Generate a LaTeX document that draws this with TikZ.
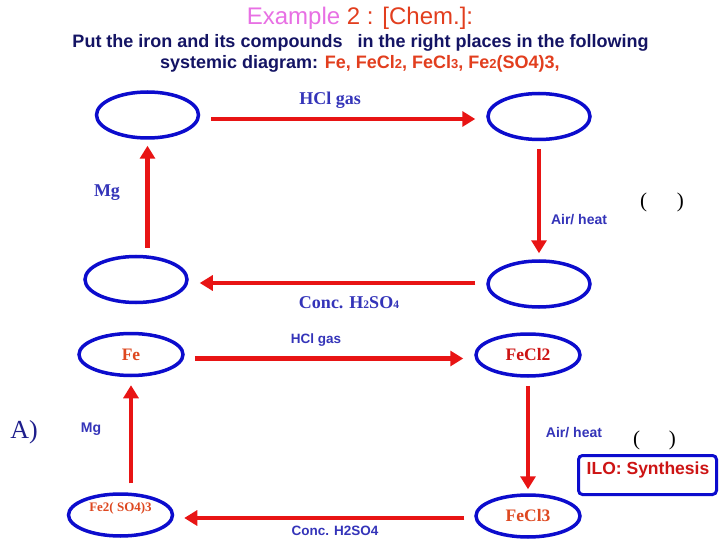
\documentclass[tikz,border=0pt]{standalone}
\usepackage{fontspec}
\setmainfont{Liberation Sans}
\newfontfamily\serifx{Liberation Serif}
\usetikzlibrary{shapes.geometric,arrows.meta,calc}
\newcommand\fsz[1]{\fontsize{#1}{#1}\selectfont}
\definecolor{ellblue}{RGB}{12,12,205}
\definecolor{arrred}{RGB}{232,20,20}
\definecolor{lblblue}{RGB}{52,52,185}
\definecolor{elorange}{RGB}{222,72,32}
\definecolor{elred}{RGB}{205,20,20}
\definecolor{navy}{RGB}{20,20,100}
\definecolor{pinkt}{RGB}{232,112,228}
\definecolor{titlered}{RGB}{226,62,30}
\definecolor{abl}{RGB}{30,30,140}
\begin{document}
\begin{tikzpicture}[x=1pt,y=-1pt,
  comp/.style={ellipse,draw=ellblue,line width=3.5pt,minimum width=102pt,minimum height=46pt,inner sep=0pt},
  compl/.style={ellipse,draw=ellblue,line width=3.5pt,minimum width=104pt,minimum height=42pt,inner sep=0pt},
  arr/.style={draw=arrred,line width=4.5pt,-{Triangle[length=13pt,width=15pt]}},
  serlbl/.style={text=lblblue,font=\serifx\bfseries\fsz{18}},
  sanslbl/.style={text=lblblue,font=\bfseries\fsz{13.5}},
  eltext/.style={font=\serifx\bfseries\fsz{17.5}},
  paren/.style={font=\serifx\fsz{21},text=black}]
\useasboundingbox[fill=white] (0,0) rectangle (720,540);
% title
\node[anchor=base,font=\fsz{24}] (title) at (360,25) {\textcolor{pinkt}{Example} \textcolor{titlered}{2 : [Chem.]:}};
\node[anchor=base,font=\bfseries\fsz{18},text=navy] (line2) at (360.5,48) {Put the iron and its compounds\ \ \ in the right places in the following};
\node[anchor=base west,font=\bfseries\fsz{18},text=navy,inner sep=0pt] (line3) at (160,69) {systemic diagram: \textcolor{titlered}{Fe, FeCl{\fsz{13}2}, FeCl{\fsz{13}3}, Fe{\fsz{13}2}(SO4)3,}};
% upper diagram
\node[comp] (TL) at (147.5,115) {};
\node[comp] (TR) at (539,116.5) {};
\node[comp] (BL) at (136,279.5) {};
\node[comp] (BR) at (539,284) {};
\draw[arr,shorten <=11pt,shorten >=11pt] ([yshift=-4pt]TL.east) -- ([yshift=-4pt]TL.east -| TR.west);
\draw[arr,shorten <=7pt,shorten >=6pt] (TL.south |- BL.north) -- (TL.south);
\draw[arr,shorten <=8pt,shorten >=6pt] (TR.south) -- (TR.south |- BR.north);
\draw[arr,shorten <=11pt,shorten >=11pt] ([yshift=1pt]BR.west) -- ([yshift=1pt]BR.west -| BL.east);
\node[serlbl] (hcl1) at (330,100) {HCl gas};
\node[serlbl] (mg1) at (107,193) {Mg};
\node[sanslbl,font=\bfseries\fsz{14}] (air1) at (579,220) {Air/ heat};
\node[paren] (par1) at (662,202) {(\hspace{30pt})};
\node[serlbl] (conc1) at (349,303) {Conc. H{\fsz{11.5}2}SO{\fsz{11.5}4}};
% lower diagram
\node[compl,eltext,text=elorange] (Fe) at (131,354.5) {Fe};
\node[compl,eltext,text=elred] (FeCl2) at (528,355) {\raisebox{2pt}{FeCl2}};
\node[compl,text=elorange,font=\serifx\bfseries\fsz{13}] (FeS) at (120.5,515) {\raisebox{3.5pt}[0pt][0pt]{Fe2( SO4)3}};
\node[compl,eltext,text=elorange] (FeCl3) at (528,516) {FeCl3};
\draw[arr,shorten <=10pt,shorten >=11pt] ([yshift=-4pt]Fe.east) -- ([yshift=-4pt]Fe.east -| FeCl2.west);
\draw[arr,shorten <=9pt,shorten >=8pt] (Fe.south |- FeS.north) -- (Fe.south);
\draw[arr,shorten <=8pt,shorten >=4pt] (FeCl2.south) -- (FeCl2.south |- FeCl3.north);
\draw[arr,shorten <=10pt,shorten >=10pt] ([yshift=-2pt]FeCl3.west) -- ([yshift=-2pt]FeCl3.west -| FeS.east);
\node[sanslbl] (hcl2) at (316,340) {HCl gas};
\node[sanslbl,font=\bfseries\fsz{14}] (mg2) at (91,429) {Mg};
\node[sanslbl,font=\bfseries\fsz{14}] (air2) at (574,433) {Air/ heat};
\node[paren] (par2) at (654.5,440) {(\hspace{29pt})};
\node[sanslbl] (conc2) at (335,531) {Conc. H2SO4};
\node[font=\serifx\fsz{26},text=abl] (A) at (24,432) {A)};
\node[draw=ellblue,line width=3pt,rounded corners=4pt,minimum width=138pt,minimum height=39pt] (ilo) at (647.5,475) {};
\node[font=\bfseries\fsz{17.5},text=elred] (ilot) at (648,470) {ILO: Synthesis};
\end{tikzpicture}
\end{document}
